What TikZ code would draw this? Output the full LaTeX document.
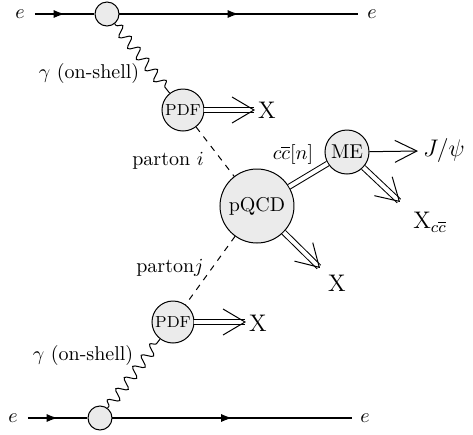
\documentclass[tikz,border=0pt]{standalone}
\usetikzlibrary{arrows.meta,decorations.pathmorphing,decorations.markings}
\begin{document}
\begin{tikzpicture}[x=0.5pt,y=-0.5pt,
  blob/.style={circle,draw,fill=gray!16,inner sep=0pt,line width=0.5pt},
  lbl/.style={inner sep=0pt},
  fermion/.style={line width=0.55pt,postaction={decorate},decoration={markings,mark=at position #1 with {\arrow{Latex[length=5.5pt,width=4pt]}}}},
  photon/.style={line width=0.5pt,decorate,decoration={snake,segment length=7pt,amplitude=2.6pt,pre length=1pt,post length=1pt}},
  parton/.style={dashed,line width=0.5pt},
  dbl/.style={double,double distance=2pt,line width=0.5pt},
  dblarrow/.style={dbl,-{Straight Barb[length=11pt,width=13pt,line width=0.5pt]}},
  sgarrow/.style={line width=0.5pt,-{Straight Barb[length=11pt,width=11pt,line width=0.5pt]}}]
\useasboundingbox (0,0) rectangle (473,435);
% top lepton line
\node[lbl] (eTL) at (20,14) {$e$};
\node[lbl] (eTR) at (372,14) {$e$};
\node[blob,minimum size=12pt] (v1) at (107,14) {};
\coordinate (tl) at (35,14);
\coordinate (tr) at (358,14);
\draw[fermion=0.5] (tl) -- (v1);
\draw[fermion=0.5] (v1) -- (tr);
% bottom lepton line
\node[lbl] (eBL) at (13,418) {$e$};
\node[lbl] (eBR) at (365,418) {$e$};
\node[blob,minimum size=12pt] (v2) at (100,418) {};
\coordinate (bl) at (28,418);
\coordinate (br) at (352,418);
\draw[fermion=0.5] (bl) -- (v2);
\draw[fermion=0.5] (v2) -- (br);
% blobs
\node[blob,minimum size=21pt] (pdf1) at (183,110) {\footnotesize PDF};
\node[blob,minimum size=21pt] (pdf2) at (173,322) {\footnotesize PDF};
\node[blob,minimum size=37pt] (pqcd) at (257,206) {pQCD};
\node[blob,minimum size=22pt] (me) at (347,152) {ME};
% photons
\draw[photon] (v1) -- (pdf1);
\draw[photon] (v2) -- (pdf2);
\node[lbl] (g1) at (89,73) {$\gamma$ (on-shell)};
\node[lbl] (g2) at (83,355) {$\gamma$ (on-shell)};
% partons
\draw[parton] (pdf1) -- (pqcd);
\draw[parton] (pqcd) -- (pdf2);
\node[lbl] (pi) at (168,161) {parton $i$};
\node[lbl] (pj) at (170,268) {parton$j$};
% outgoing
\node[lbl] (X1) at (267,110) {\large X};
\node[lbl] (X2) at (258,323) {\large X};
\node[lbl] (X3) at (337,283) {\large X};
\node[lbl] (Xcc) at (430,222) {\large X$_{c\overline{c}}$};
\node[lbl] (jpsi) at (444,150) {\large $J/\psi$};
\coordinate (t1) at (255,110);
\coordinate (t2) at (246,322);
\coordinate (t3) at (320,268);
\coordinate (t4) at (400,202);
\coordinate (t5) at (418,151);
\draw[dblarrow] (pdf1) -- (t1);
\draw[dblarrow] (pdf2) -- (t2);
\draw[dblarrow] (pqcd) -- (t3);
\draw[dblarrow] (me) -- (t4);
\draw[sgarrow] (me) -- (t5);
\draw[dbl] (pqcd) -- (me);
\node[lbl] (ccn) at (293,154) {$c\overline{c}[n]$};
\end{tikzpicture}
\end{document}
